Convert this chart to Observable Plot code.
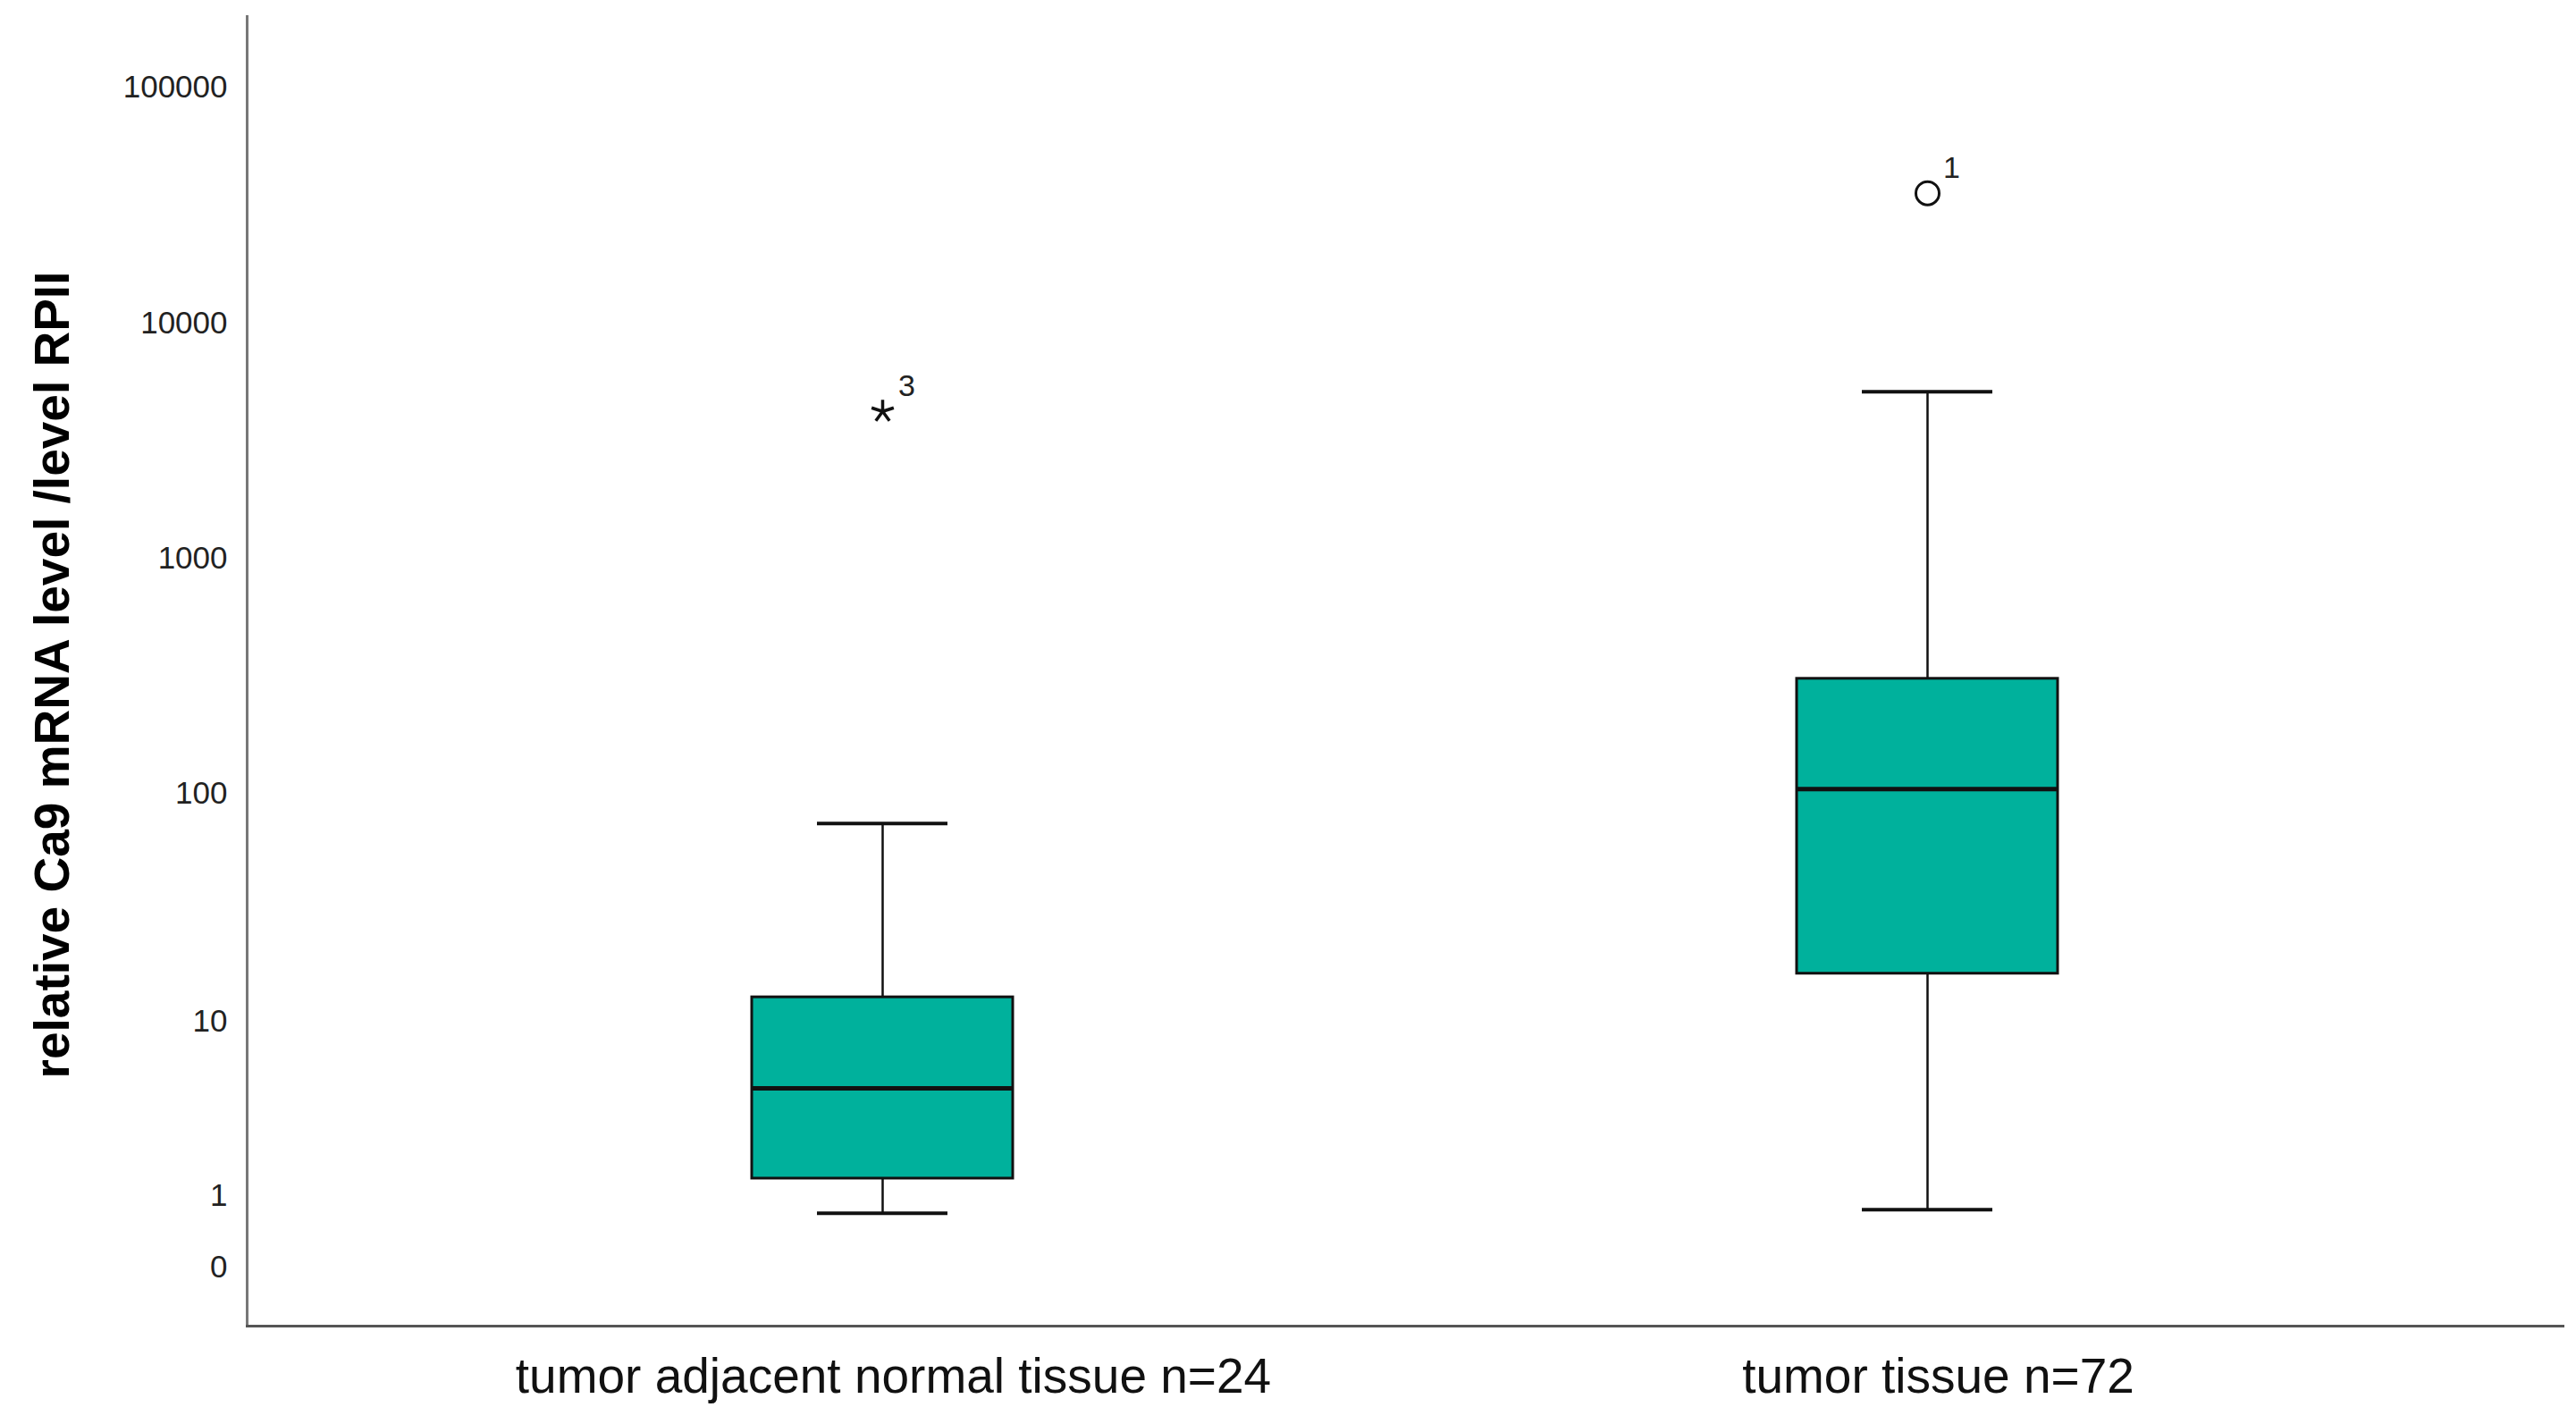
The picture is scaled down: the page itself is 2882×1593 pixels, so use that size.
<!DOCTYPE html>
<html>
<head>
<meta charset="utf-8">
<script src="https://cdn.jsdelivr.net/npm/d3@7"></script>
<script src="https://cdn.jsdelivr.net/npm/@observablehq/plot@0.6"></script>
<style>
  html, body { margin: 0; padding: 0; background: #fff; overflow: hidden; }
  svg { display: block; font-family: "Liberation Sans", Arial, sans-serif; }
</style>
</head>
<body>
<script>
// ---- data ----
const categories = ["tumor adjacent normal tissue n=24", "tumor tissue n=72"];
const whiskerLow  = [0.69, 0.75];
const q1          = [1.37, 16.5];
const median      = [4.72, 105];
const q3          = [12.9, 310];
const whiskerHigh = [74.7, 5120];

const outlierCategory = ["tumor adjacent normal tissue n=24", "tumor tissue n=72"];
const outlierValue    = [4220, 35500];
const outlierLabel    = ["3", "1"];
const outlierKind     = ["extreme", "outlier"];

const yTicks  = [0, 1, 10, 100, 1000, 10000, 100000];
const yDomain = [-0.78, 199000];
const yLabel  = "relative Ca9 mRNA level /level RPII";

// ---- tables ----
const boxes = categories.map((c, i) => ({
  cat: c, lo: whiskerLow[i], q1: q1[i], med: median[i], q3: q3[i], hi: whiskerHigh[i]
}));
const outliers = outlierCategory.map((c, i) => ({
  cat: c, v: outlierValue[i], label: outlierLabel[i], kind: outlierKind[i]
}));

// five-armed asterisk symbol (SPSS extreme marker)
const star5 = {
  draw(ctx, size) {
    const r = Math.sqrt(size / Math.PI);
    for (let k = 0; k < 5; k++) {
      const a = -Math.PI / 2 + k * 2 * Math.PI / 5;
      ctx.moveTo(0, 0);
      ctx.lineTo(r * Math.cos(a), r * Math.sin(a));
    }
  }
};

const teal = "#00b19c";
const ink = "#111";

const chart = Plot.plot({
  width: 2882,
  height: 1593,
  marginLeft: 276,
  marginRight: 15,
  marginTop: 18,
  marginBottom: 110,
  style: { fontFamily: "'Liberation Sans', Arial, sans-serif", background: "#fff" },
  x: { type: "band", domain: categories, paddingInner: 0.75, paddingOuter: 0.483, align: 0.5, label: null },
  y: { type: "symlog", constant: 1, domain: yDomain, label: null },
  marks: [
    Plot.frame({ anchor: "left", stroke: "#777", strokeWidth: 3 }),
    Plot.frame({ anchor: "bottom", stroke: "#555", strokeWidth: 3 }),
    Plot.axisY({
      ticks: yTicks, tickFormat: d3.format("d"), tickSize: 0, tickPadding: 22,
      fontSize: 35, fill: "#222", label: null
    }),
    Plot.axisX({ tickSize: 0, tickPadding: 35, dx: 12, fontSize: 55, fill: "#111", label: null }),
    Plot.text([yLabel], {
      text: d => d, frameAnchor: "left", rotate: -90, dx: -217, dy: 4,
      fontSize: 55, fontWeight: "bold", fill: "#000", lineAnchor: "middle", textAnchor: "middle"
    }),
    // whiskers
    Plot.ruleX(boxes, { x: "cat", y1: "lo", y2: "hi", stroke: ink, strokeWidth: 2.5 }),
    Plot.tickY(boxes, { x: "cat", y: "lo", stroke: ink, strokeWidth: 4, insetLeft: 73, insetRight: 73 }),
    Plot.tickY(boxes, { x: "cat", y: "hi", stroke: ink, strokeWidth: 4, insetLeft: 73, insetRight: 73 }),
    // boxes
    Plot.barY(boxes, { x: "cat", y1: "q1", y2: "q3", fill: teal, stroke: ink, strokeWidth: 3 }),
    Plot.tickY(boxes, { x: "cat", y: "med", stroke: ink, strokeWidth: 5 }),
    // outliers
    Plot.dot(outliers.filter(d => d.kind === "outlier"), {
      x: "cat", y: "v", r: 13, symbol: "circle", fill: "none", stroke: ink, strokeWidth: 3
    }),
    Plot.dot(outliers.filter(d => d.kind === "extreme"), {
      x: "cat", y: "v", r: 13, symbol: star5, fill: "none", stroke: ink, strokeWidth: 3.5
    }),
    Plot.text(outliers, {
      x: "cat", y: "v", text: "label", dx: 27, dy: -28, fontSize: 34, fill: "#222",
      textAnchor: "middle", lineAnchor: "middle"
    })
  ]
});

document.body.appendChild(chart);
</script>
</body>
</html>
